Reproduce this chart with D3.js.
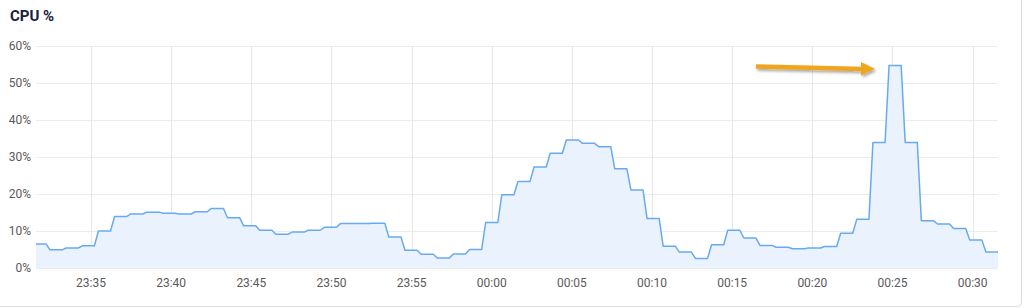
<!DOCTYPE html>
<html>
<head>
<meta charset="utf-8">
<script src="https://cdn.jsdelivr.net/npm/d3@7"></script>
<style>
  html, body { margin: 0; padding: 0; background: #fff; }
  svg { display: block; font-family: Roboto, "Noto Sans", sans-serif; }
</style>
</head>
<body>
<div id="chart"></div>
<script>
// CPU samples, roughly one per minute (first one sits just left of the plot edge)
var firstSample = new Date(2024, 0, 1, 23, 31, 26);
var sampleStepSec = 60.4;
var cpuValues = [
  6.5, 4.9, 5.4, 6.0, 10.0, 13.9, 14.6, 15.1, 14.8, 14.6,
  15.2, 16.1, 13.6, 11.4, 10.2, 9.1, 9.7, 10.2, 11.0, 12.0,
  12.0, 12.1, 8.4, 4.8, 3.7, 2.7, 3.8, 5.0, 12.3, 19.8,
  23.4, 27.3, 31.0, 34.6, 33.7, 32.8, 26.8, 21.1, 13.4, 5.9,
  4.3, 2.6, 6.3, 10.2, 8.1, 6.1, 5.6, 5.2, 5.4, 5.8,
  9.4, 13.2, 33.9, 54.7, 33.9, 12.8, 11.9, 10.7, 7.6, 4.3,
  4.3
];
var yTicks = [0, 10, 20, 30, 40, 50, 60];
var timeStart = new Date(2024, 0, 1, 23, 31, 34);
var timeEnd = new Date(2024, 0, 2, 0, 31, 35);

var data = cpuValues.map(function(v, i) {
  return { t: new Date(firstSample.getTime() + i * sampleStepSec * 1000), v: v };
});

var width = 1024, height = 308;
var plotLeft = 36, plotRight = 998, plotTop = 46, plotBottom = 268;

var svg = d3.select("#chart").append("svg")
  .attr("width", width)
  .attr("height", height);

// card border
svg.append("rect")
  .attr("x", -6).attr("y", -6)
  .attr("width", 1027.5).attr("height", 312.5)
  .attr("rx", 4)
  .attr("fill", "#fff")
  .attr("stroke", "#dcdcdc");

svg.append("text")
  .attr("x", 10).attr("y", 21)
  .attr("font-size", 15).attr("font-weight", "bold")
  .attr("fill", "#17213f")
  .text("CPU %");

var x = d3.scaleTime().domain([timeStart, timeEnd]).range([plotLeft, plotRight]);
var y = d3.scaleLinear().domain([0, 60]).range([plotBottom, plotTop]);
var xTicks = x.ticks(d3.timeMinute.every(5));

// grid
svg.append("g").selectAll("line").data(yTicks).enter().append("line")
  .attr("x1", plotLeft).attr("x2", plotRight)
  .attr("y1", function(d) { return y(d) + 0.5; })
  .attr("y2", function(d) { return y(d) + 0.5; })
  .attr("stroke", "#ececec");
svg.append("g").selectAll("line").data(xTicks).enter().append("line")
  .attr("x1", function(d) { return Math.round(x(d)) + 0.5; })
  .attr("x2", function(d) { return Math.round(x(d)) + 0.5; })
  .attr("y1", plotTop).attr("y2", plotBottom)
  .attr("stroke", "#e6e6e6");

// y labels
svg.append("g").selectAll("text").data(yTicks).enter().append("text")
  .attr("x", 31)
  .attr("y", function(d) { return y(d); })
  .attr("dy", "0.35em")
  .attr("text-anchor", "end")
  .attr("font-size", 12)
  .attr("fill", "#5a5a5a")
  .text(function(d) { return d + "%"; });

// x labels
var fmt = d3.timeFormat("%H:%M");
svg.append("g").selectAll("text").data(xTicks).enter().append("text")
  .attr("x", function(d) { return x(d); })
  .attr("y", 287)
  .attr("text-anchor", "middle")
  .attr("font-size", 12)
  .attr("fill", "#5a5a5a")
  .text(fmt);

// curve: hold the value, then a short ramp into the next sample
var RAMP = 4;
function RampStep(context) { this._context = context; }
RampStep.prototype = {
  areaStart: function() { this._line = 0; },
  areaEnd: function() { this._line = NaN; },
  lineStart: function() { this._point = 0; },
  lineEnd: function() {
    if (this._line || (this._line !== 0 && this._point === 1)) this._context.closePath();
    this._line = 1 - this._line;
  },
  point: function(px, py) {
    px = +px; py = +py;
    if (this._point === 0) {
      this._point = 1;
      if (this._line) this._context.lineTo(px, py); else this._context.moveTo(px, py);
    } else {
      this._point = 2;
      var dx = px > this._x ? -RAMP : RAMP;
      this._context.lineTo(px + dx, this._y);
      this._context.lineTo(px, py);
    }
    this._x = px; this._y = py;
  }
};
function curveRamp(context) { return new RampStep(context); }

svg.append("clipPath").attr("id", "plot")
  .append("rect").attr("x", plotLeft).attr("y", 0)
  .attr("width", plotRight - plotLeft).attr("height", plotBottom + 1);

var plot = svg.append("g").attr("clip-path", "url(#plot)");

var area = d3.area()
  .x(function(d) { return x(d.t); })
  .y0(y(0))
  .y1(function(d) { return y(d.v); })
  .curve(curveRamp);
var line = d3.line()
  .x(function(d) { return x(d.t); })
  .y(function(d) { return y(d.v); })
  .curve(curveRamp);

plot.append("path").datum(data)
  .attr("d", area)
  .attr("fill", "#e9f2fd");
plot.append("path").datum(data)
  .attr("d", line)
  .attr("fill", "none")
  .attr("stroke", "#68aaf1")
  .attr("stroke-width", 1.5)
  .attr("stroke-linejoin", "round");

// orange annotation arrow
var defs = svg.append("defs");
var f = defs.append("filter").attr("id", "shadow")
  .attr("x", "-20%").attr("y", "-100%").attr("width", "140%").attr("height", "300%");
f.append("feDropShadow").attr("dx", 1.5).attr("dy", 2)
  .attr("stdDeviation", 1.5).attr("flood-color", "#000").attr("flood-opacity", 0.35);

var arrow = svg.append("g").attr("filter", "url(#shadow)");
arrow.append("path")
  .attr("d", "M756,64.3 L863,66.8 L863,71.2 L756,68.7 Z")
  .attr("fill", "#f0a61e");
arrow.append("path")
  .attr("d", "M861,62 L875,69 L861,75.5 Z")
  .attr("fill", "#f0a61e");
</script>
</body>
</html>
